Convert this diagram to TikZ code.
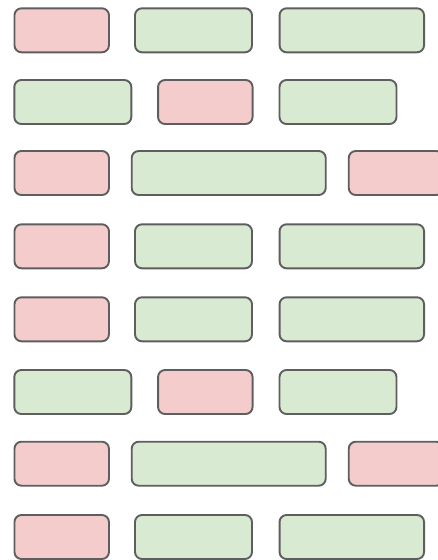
\documentclass[tikz,border=0pt]{standalone}
\usepackage{tikz}
\usepackage{xcolor}
\definecolor{brickred}{HTML}{F4CCCC}
\definecolor{brickgreen}{HTML}{D9EAD3}
\definecolor{brickline}{HTML}{5E5E5E}

\begin{document}
\begin{tikzpicture}[
      x=1pt, y=-1pt,
      brick/.style={draw=brickline, line width=1.9pt, rounded corners=7pt, minimum height=44pt, inner sep=0pt},
      redbox/.style={brick, fill=brickred, minimum width=94.5pt},
      greenbox/.style={brick, fill=brickgreen},
      shortbox/.style={greenbox, minimum width=117pt},
      longbox/.style={greenbox, minimum width=144.5pt},
      widebox/.style={greenbox, minimum width=194pt}
    ]
      \useasboundingbox (0,0) rectangle (437,560);

      \node[redbox] (oneA) at (61.7,30.3) {};
      \node[shortbox] (oneB) at (193.5,30.3) {};
      \node[longbox] (oneC) at (351.8,30.3) {};

      \node[shortbox] (twoA) at (72.8,102) {};
      \node[redbox] (twoB) at (205.3,102) {};
      \node[shortbox] (twoC) at (338,102) {};

      \node[redbox] (threeA) at (61.7,173) {};
      \node[widebox] (threeB) at (228.7,173) {};
      \node[redbox] (threeC) at (396,173) {};

      \node[redbox] (fourA) at (61.7,246.3) {};
      \node[shortbox] (fourB) at (193.5,246.3) {};
      \node[longbox] (fourC) at (351.8,246.3) {};

      \node[redbox] (fiveA) at (61.7,319.3) {};
      \node[shortbox] (fiveB) at (193.5,319.3) {};
      \node[longbox] (fiveC) at (351.8,319.3) {};

      \node[shortbox] (sixA) at (72.8,392) {};
      \node[redbox] (sixB) at (205.3,392) {};
      \node[shortbox] (sixC) at (338,392) {};

      \node[redbox] (sevenA) at (61.7,463.7) {};
      \node[widebox] (sevenB) at (228.7,463.7) {};
      \node[redbox] (sevenC) at (396,463.7) {};

      \node[redbox] (eightA) at (61.7,537) {};
      \node[shortbox] (eightB) at (193.5,537) {};
      \node[longbox] (eightC) at (351.8,537) {};
    \end{tikzpicture}
\end{document}
